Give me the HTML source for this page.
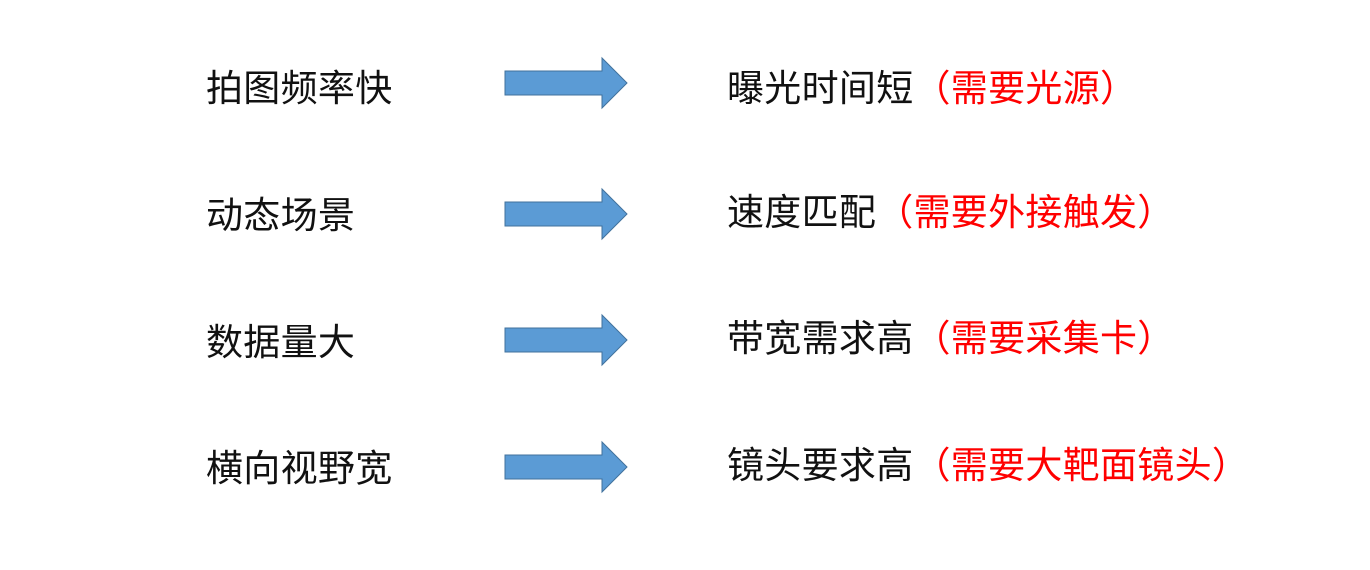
<!DOCTYPE html>
<html><head><meta charset="utf-8"><style>
html,body{margin:0;padding:0;background:#fff;width:1370px;height:570px;overflow:hidden;position:relative}
.t{position:absolute;font-family:"Liberation Sans","Noto Sans CJK SC",sans-serif;font-size:37px;letter-spacing:0.3px;line-height:40px;color:#111;white-space:nowrap}
.r{color:#ff0000}
svg{position:absolute;left:0;top:0}
</style></head><body>
<svg width="1370" height="570">
<g fill="#5b9bd5" stroke="#41719c" stroke-width="1">
<path d="M505 71H602V58L627 83L602 108V95H505Z"/>
<path d="M505 202H602V189L627 214L602 239V226H505Z"/>
<path d="M505 328H602V315L627 340L602 365V352H505Z"/>
<path d="M505 455H602V442L627 467L602 492V479H505Z"/>
</g></svg>
<div class="t" style="left:206px;top:69px">拍图频率快</div>
<div class="t" style="left:206px;top:196px">动态场景</div>
<div class="t" style="left:206px;top:323px">数据量大</div>
<div class="t" style="left:206px;top:449px">横向视野宽</div>
<div class="t" style="left:727px;top:69px">曝光时间短<span class="r">（需要光源）</span></div>
<div class="t" style="left:727px;top:193px">速度匹配<span class="r">（需要外接触发）</span></div>
<div class="t" style="left:727px;top:319px">带宽需求高<span class="r">（需要采集卡）</span></div>
<div class="t" style="left:727px;top:446px">镜头要求高<span class="r">（需要大靶面镜头）</span></div>
</body></html>
